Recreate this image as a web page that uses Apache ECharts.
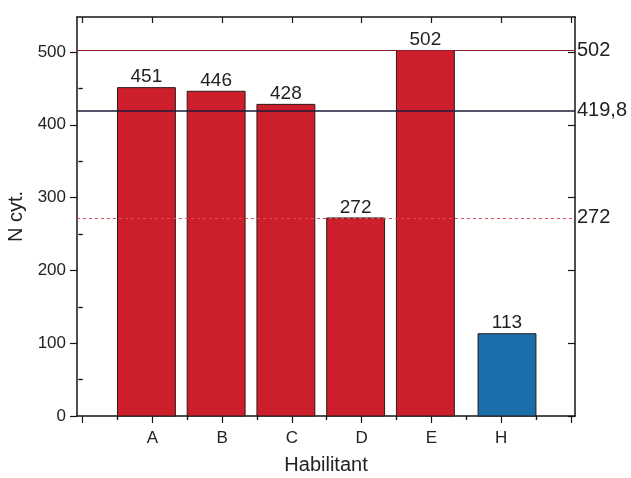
<!DOCTYPE html>
<html>
<head>
<meta charset="utf-8">
<script src="https://cdn.jsdelivr.net/npm/echarts@6/dist/echarts.min.js"></script>
<style>
  html, body { margin: 0; padding: 0; background: #fff; }
  #chart { width: 631px; height: 478px; }
</style>
</head>
<body>
<div id="chart"></div>
<script>
// Cell counts per inhabitant; the last category (H) is the reference group.
const categories = ['A', 'B', 'C', 'D', 'E', 'H'];
const counts = [451, 446, 428, 272, 502, 113];
// Horizontal reference levels labelled on the right-hand axis.
const refLevels = [502, 419.8, 272];
// Left-axis labelled ticks and the minor ticks in between.
const yMajorTicks = [0, 100, 200, 300, 400, 500];
const yMinorTicks = [50, 150, 250, 350, 450];

const FONT = '"Liberation Sans", Arial, Helvetica, sans-serif';
const INK = '#222';
const AXIS = '#151515';
const BAR_W = 0.83;               // bar width in x-axis units
const RED = '#cc1f2b';
const BLUE = '#1a6ea9';

const xMajor = [];
const xMinor = [];
for (let i = 0; i <= categories.length + 1; i++) {
  xMajor.push(i);
  if (i <= categories.length) xMinor.push(i + 0.5);
}

const refStyles = [
  { color: '#8c1d2b', width: 1.2, type: 'solid' },
  { color: '#1b1b3a', width: 1.6, type: 'solid' },
  { color: '#d9505c', width: 1, type: [3, 3] }
];

function xAxisDef(pos, ticks, len, inside, extra) {
  return Object.assign({
    type: 'value', position: pos, min: -0.08, max: 7.06,
    splitLine: { show: false },
    axisLine: { show: true, onZero: false, lineStyle: { color: AXIS, width: 1.5 } },
    axisTick: { show: true, inside: inside, length: len, customValues: ticks,
                lineStyle: { color: AXIS, width: 1.2 } },
    axisLabel: { show: false }
  }, extra || {});
}
function yAxisDef(pos, ticks, len, inside, extra) {
  return Object.assign({
    type: 'value', position: pos, min: 0, max: 548,
    splitLine: { show: false },
    axisLine: { show: true, onZero: false, lineStyle: { color: AXIS, width: 1.5 } },
    axisTick: { show: true, inside: inside, length: len, customValues: ticks,
                lineStyle: { color: AXIS, width: 1.2 } },
    axisLabel: { show: false }
  }, extra || {});
}

const option = {
  animation: false,
  backgroundColor: '#fff',
  textStyle: { fontFamily: FONT },
  grid: { left: 77, top: 17, width: 498, height: 399, outerBoundsMode: 'none', containLabel: false },
  xAxis: [
    xAxisDef('bottom', xMajor, 7, false, {
      axisLabel: {
        show: true, customValues: categories.map((c, i) => i + 1),
        formatter: v => categories[Math.round(v) - 1],
        fontSize: 17, color: INK, margin: 14, fontFamily: FONT
      },
      name: 'Habilitant', nameLocation: 'middle', nameGap: 39,
      nameTextStyle: { fontSize: 20, color: INK, fontFamily: FONT }
    }),
    xAxisDef('bottom', xMinor, 4, false, { axisLine: { show: false } }),
    xAxisDef('top', xMajor, 6, true),
    xAxisDef('top', xMinor, 4, true, { axisLine: { show: false } })
  ],
  yAxis: [
    yAxisDef('left', yMajorTicks, 7, false, {
      axisLabel: {
        show: true, customValues: yMajorTicks,
        fontSize: 17, color: INK, margin: 11, fontFamily: FONT
      },
      name: 'N cyt.', nameLocation: 'middle', nameGap: 48, nameRotate: 90,
      nameTextStyle: { fontSize: 20, color: INK, fontFamily: FONT }
    }),
    yAxisDef('left', yMinorTicks, 4, false, { axisLine: { show: false } }),
    yAxisDef('right', yMajorTicks, 7, true),
    yAxisDef('right', yMinorTicks, 4, true, { axisLine: { show: false } })
  ],
  series: [
    {
      // reference levels drawn behind the bars
      type: 'line', data: [], z: 1, xAxisIndex: 0, yAxisIndex: 0,
      markLine: {
        silent: true, symbol: 'none', animation: false,
        data: refLevels.map((v, i) => ({
          yAxis: v,
          lineStyle: refStyles[i],
          label: {
            show: true, position: 'end', distance: 2,
            formatter: String(v).replace('.', ','),
            fontSize: 20, color: INK, fontFamily: FONT
          }
        }))
      }
    },
    {
      type: 'custom', z: 3, xAxisIndex: 0, yAxisIndex: 0,
      data: counts.map((v, i) => [i + 1, v]),
      renderItem: function (params, api) {
        const x = api.value(0);
        const v = api.value(1);
        const isRef = params.dataIndex === categories.length - 1;
        const left = isRef ? x + 0.5 - BAR_W : x - 0.5;
        const p0 = api.coord([left, v]);
        const p1 = api.coord([left + BAR_W, 0]);
        return {
          type: 'group',
          children: [
            {
              type: 'rect',
              shape: { x: p0[0], y: p0[1], width: p1[0] - p0[0], height: p1[1] - p0[1] },
              style: { fill: isRef ? BLUE : RED, stroke: '#2b1a1a', lineWidth: 1 }
            },
            {
              type: 'text',
              style: {
                text: String(v), x: (p0[0] + p1[0]) / 2, y: p0[1] - 1,
                align: 'center', verticalAlign: 'bottom',
                fontSize: 19, fontFamily: FONT, fill: INK
              }
            }
          ]
        };
      }
    }
  ]
};

const chart = echarts.init(document.getElementById('chart'), null, { renderer: 'canvas' });
chart.setOption(option);
</script>
</body>
</html>
